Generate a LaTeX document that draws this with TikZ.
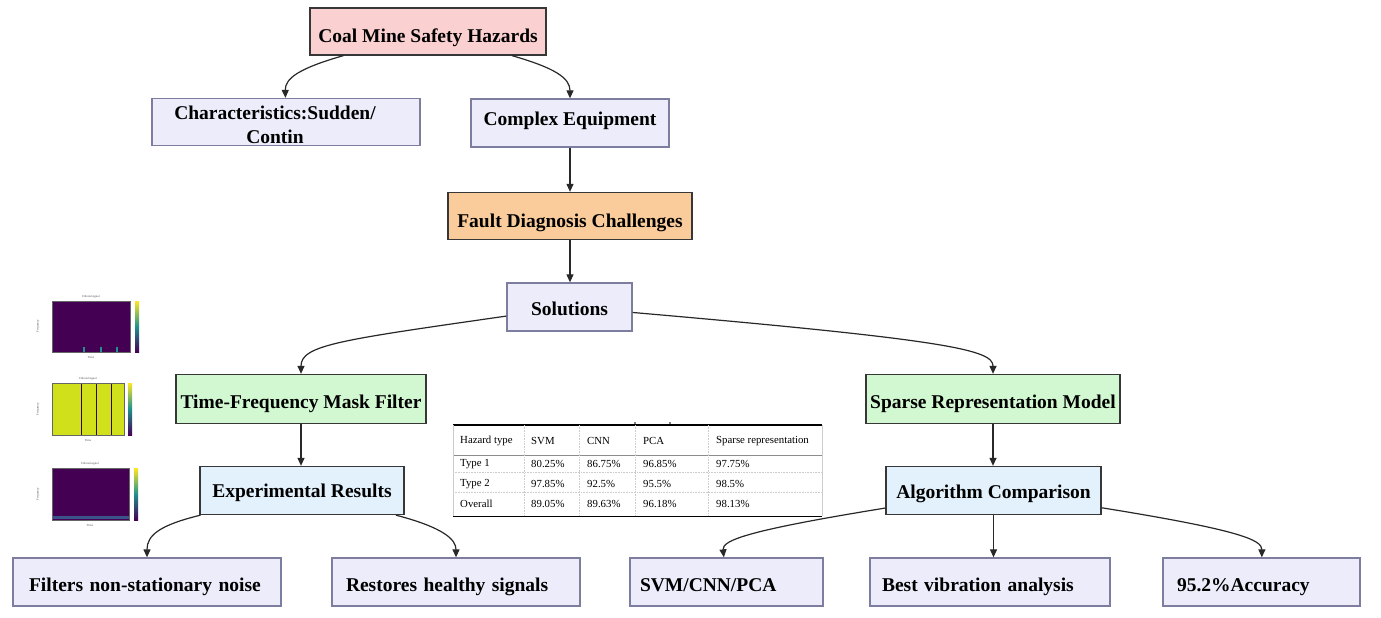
\documentclass[tikz,border=0pt]{standalone}
\usepackage{fontspec}
\setmainfont{Liberation Serif}
\usetikzlibrary{arrows.meta}
\definecolor{pinkc}{RGB}{250,208,208}
\definecolor{lavc}{RGB}{236,236,250}
\definecolor{orac}{RGB}{250,204,156}
\definecolor{grnc}{RGB}{210,248,210}
\definecolor{bluc}{RGB}{226,241,251}
\definecolor{bordc}{RGB}{55,55,55}
\definecolor{lbordc}{RGB}{125,125,160}
\definecolor{arrc}{RGB}{40,40,40}
\definecolor{virP}{RGB}{68,1,84}
\definecolor{virB}{RGB}{59,82,139}
\definecolor{virT}{RGB}{33,145,140}
\definecolor{virY}{RGB}{253,231,37}
\definecolor{virG}{RGB}{208,225,28}
\begin{document}
\begin{tikzpicture}[x=1pt,y=-1pt,
  box/.style={draw=bordc, line width=1.3pt, inner sep=0pt, align=center,
    text depth=0pt, font=\fontsize{19.5}{24}\selectfont\bfseries},
  lav/.style={box, fill=lavc, draw=lbordc},
  lbox/.style={lav, align=left, inner xsep=#1},
  th/.style={text height=#1},
  arr/.style={draw=arrc, line width=1.2pt, -{Triangle[length=8pt,width=7pt]}},
  tcell/.style={inner sep=0pt, anchor=west, font=\fontsize{10.8}{12}\selectfont},
  tiny/.style={inner sep=0pt, font=\fontsize{3}{3.5}\selectfont, text=black!70}]
\fill[white] (0,0) rectangle (1381,618);
\useasboundingbox (0,0) rectangle (1381,618);

% main nodes
\node[box, th=22pt, fill=pinkc, minimum width=236pt, minimum height=47pt] (coal) at (428,31.5) {Coal Mine Safety Hazards};
\node[lav, minimum width=268pt, minimum height=47pt] (char) at (286,122) {};
\node[inner sep=0pt, align=center, font=\fontsize{19.5}{24.5}\selectfont\bfseries] (chartext) at (275,125) {Characteristics:Sudden/\\Contin};
\node[lav, th=4pt, minimum width=198pt, minimum height=48pt] (complex) at (570,123) {Complex Equipment};
\node[box, th=22pt, fill=orac, minimum width=244pt, minimum height=47pt] (fault) at (570,216) {Fault Diagnosis Challenges};
\node[lav, th=17pt, minimum width=125pt, minimum height=48pt] (sol) at (569.5,307) {Solutions};
\node[box, th=18pt, fill=grnc, minimum width=250pt, minimum height=49pt] (tf) at (301,399) {Time-Frequency Mask Filter};
\node[box, th=19pt, fill=grnc, minimum width=254pt, minimum height=49pt] (sparse) at (993,399) {Sparse Representation Model};
\node[box, th=13pt, fill=bluc, minimum width=204pt, minimum height=48pt] (exp) at (302,490.5) {Experimental Results};
\node[box, th=16pt, fill=bluc, minimum width=215pt, minimum height=48pt] (alg) at (993.5,490.5) {Algorithm Comparison};

\node[lbox=16pt, th=19pt, text width=236pt, minimum height=48pt] (filt) at (147,582) {Filters non-stationary noise};
\node[lbox=14pt, th=19pt, text width=220pt, minimum height=48pt] (rest) at (456,582) {Restores healthy signals};
\node[lbox=10pt, th=19pt, text width=173pt, minimum height=48pt] (svm) at (726.5,582) {SVM/CNN/PCA};
\node[lbox=12pt, th=19pt, text width=216pt, minimum height=48pt] (best) at (990,582) {Best vibration analysis};
\node[lbox=14pt, th=19pt, text width=169pt, minimum height=48pt] (acc) at (1261.5,582) {95.2\%Accuracy};

% connectors
\draw[arr] (coal) .. controls (300,68) and (285,78) .. (char);
\draw[arr] (coal) .. controls (555,68) and (570,78) .. (complex);
\draw[arr] (complex.south) -- (fault.north);
\draw[arr] (fault.south) -- (fault.south |- sol.north);
\draw[arr] (sol) .. controls (340,340) and (301,345) .. (tf);
\draw[arr] (sol) .. controls (950,340) and (993,350) .. (sparse);
\draw[arr] (tf.south) -- (exp.north -| tf.south);
\draw[arr] (sparse.south) -- (alg.north -| sparse.south);
\draw[arr] (exp) .. controls (160,525) and (147,535) .. (filt);
\draw[arr] (exp) .. controls (445,528) and (456,540) .. (rest);
\draw[arr] (alg) .. controls (750,530) and (722,540) .. (svm);
\draw[arr] (alg.south) -- (alg.south |- best.north);
\draw[arr] (alg) .. controls (1240,530) and (1262,540) .. (acc);

% table
\fill[black] (635,423) circle (0.8pt);
\fill[black] (670,423) circle (0.8pt);
\draw[black, line width=1.4pt] (453,425) -- (822,425);
\draw[black!45, line width=1pt] (453,455) -- (822,455);
\draw[black!20, line width=0.6pt, densely dotted] (453,472) -- (822,472);
\draw[black!20, line width=0.6pt, densely dotted] (453,492) -- (822,492);
\foreach \cx in {524,579,635,708} \draw[black!20, line width=0.6pt, densely dotted] (\cx,425) -- (\cx,516);
\draw[black!20, line width=0.6pt] (453,425) -- (453,516);
\draw[black!20, line width=0.6pt] (822,425) -- (822,516);
\draw[black, line width=1.4pt] (453,516.5) -- (822,516.5);
\node[tcell] (h1) at (460,441) {Hazard type};
\node[tcell] (h2) at (531,441) {SVM};
\node[tcell] (h3) at (587,441) {CNN};
\node[tcell] (h4) at (643,441) {PCA};
\node[tcell] (h5) at (716,441) {Sparse representation};
\node[tcell] (a1) at (460,464) {Type 1};
\node[tcell] (a2) at (531,464) {80.25\%};
\node[tcell] (a3) at (587,464) {86.75\%};
\node[tcell] (a4) at (643,464) {96.85\%};
\node[tcell] (a5) at (716,464) {97.75\%};
\node[tcell] (b1) at (460,484) {Type 2};
\node[tcell] (b2) at (531,484) {97.85\%};
\node[tcell] (b3) at (587,484) {92.5\%};
\node[tcell] (b4) at (643,484) {95.5\%};
\node[tcell] (b5) at (716,484) {98.5\%};
\node[tcell] (c1) at (460,504) {Overall};
\node[tcell] (c2) at (531,504) {89.05\%};
\node[tcell] (c3) at (587,504) {89.63\%};
\node[tcell] (c4) at (643,504) {96.18\%};
\node[tcell] (c5) at (716,504) {98.13\%};

% thumbnails
% plot 1
\fill[virP] (52,301) rectangle (130,352);
\foreach \sx in {84,101,117} \fill[virT] (\sx-0.6,347) rectangle (\sx+0.6,352);
\draw[black!60, line width=0.3pt] (52,301) rectangle (130,352);
\shade[top color=virY, bottom color=virP, middle color=virT] (135,301) rectangle (139,352);
\node[tiny] (p1t) at (91,297) {Filtered signal};
\node[tiny] (p1x) at (91,358) {Time};
\node[tiny, rotate=90] (p1y) at (38,326) {Frequency};
% plot 2
\fill[virG] (52,383) rectangle (124,435);
\foreach \sx in {81,96,111} \draw[virP!80!black, line width=0.9pt] (\sx,383) -- (\sx,435);
\draw[black!60, line width=0.3pt] (52,383) rectangle (124,435);
\shade[top color=virY, bottom color=virP, middle color=virT] (128,383) rectangle (132,435);
\node[tiny] (p2t) at (88,379) {Filtered signal};
\node[tiny] (p2x) at (88,441) {Time};
\node[tiny, rotate=90] (p2y) at (38,409) {Frequency};
% plot 3
\fill[virP] (52,468) rectangle (129,520);
\fill[virB] (52,516) rectangle (129,519);
\draw[black!60, line width=0.3pt] (52,468) rectangle (129,520);
\shade[top color=virY, bottom color=virP, middle color=virT] (134,468) rectangle (138,520);
\node[tiny] (p3t) at (90,464) {Filtered signal};
\node[tiny] (p3x) at (90,526) {Time};
\node[tiny, rotate=90] (p3y) at (38,494) {Frequency};
\end{tikzpicture}
\end{document}
